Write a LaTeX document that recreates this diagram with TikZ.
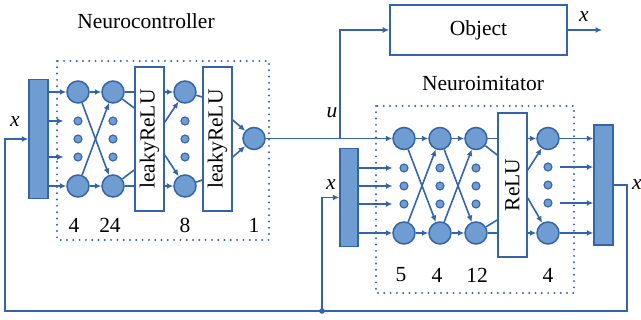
\documentclass[tikz,border=0pt]{standalone}
\usepackage{fontspec}
\usepackage{graphicx}
\setmainfont{Liberation Serif}
\usetikzlibrary{arrows.meta,calc}
\definecolor{nfill}{RGB}{111,157,210}
\definecolor{nline}{RGB}{52,100,170}
\begin{document}
\begin{tikzpicture}[x=1pt,y=-1pt,
  every node/.style={font=\fontsize{21.5}{24}\selectfont},
  conn/.style={draw=nline,line width=1.6pt},
  arr/.style={conn,-{Latex[length=6.5pt,width=6pt]}},
  neuron/.style={circle,draw=nline,fill=nfill,line width=1.5pt,minimum size=22pt,inner sep=0pt},
  ndot/.style={circle,draw=nline,fill=nfill,line width=1.1pt,minimum size=8pt,inner sep=0pt},
  bar/.style={rectangle,draw=nline,fill=nfill,line width=1.5pt,inner sep=0pt},
  actbox/.style={rectangle,draw=nline,fill=white,line width=1.6pt,inner sep=0pt,minimum width=29pt,minimum height=144pt},
  frame/.style={draw=nline,line width=2.2pt,dash pattern=on 0pt off 6.3pt,line cap=round},
  lbl/.style={inner sep=0pt}
]
\useasboundingbox (0,0) rectangle (641,320);

% frames
\draw[frame] (57,61) rectangle (269,240);
\draw[frame] (376,106) rectangle (574,293);

% titles
\node[lbl] (t1) at (146,21) {Neurocontroller};
\node[lbl] (t2) at (483,83) {Neuroimitator};

% ---------- Neurocontroller ----------
\node[bar,minimum width=19pt,minimum height=119pt] (barL) at (38.5,139) {};
\node[lbl] (xL) at (15,122) {\textit{x}};

\node[neuron] (c1t) at (78,92) {};
\node[neuron] (c1b) at (78,186) {};
\node[ndot] (d1a) at (78,121) {};
\node[ndot] (d1b) at (78,139) {};
\node[ndot] (d1c) at (78,157) {};

\node[neuron] (c2t) at (113,92) {};
\node[neuron] (c2b) at (113,186) {};
\node[ndot] (d2a) at (113,121) {};
\node[ndot] (d2b) at (113,139) {};
\node[ndot] (d2c) at (113,157) {};

\node[actbox] (box1) at (149.5,139) {\rotatebox{90}{leakyReLU}};

\node[neuron] (c3t) at (185,92) {};
\node[neuron] (c3b) at (185,186) {};
\node[ndot] (d3a) at (185,121) {};
\node[ndot] (d3b) at (185,139) {};
\node[ndot] (d3c) at (185,157) {};

\node[actbox] (box2) at (217.5,139) {\rotatebox{90}{leakyReLU}};

\node[neuron] (out) at (254,138.5) {};

\node[lbl] (n1) at (74,225) {4};
\node[lbl] (n2) at (110,225) {24};
\node[lbl] (n3) at (185,225) {8};
\node[lbl] (n4) at (254,225) {1};

\draw[arr] (barL.east |- c1t) -- (c1t);
\draw[arr] (barL.east |- c1b) -- (c1b);
\draw[arr,shorten >=10pt] (barL.east |- d1a) -- (d1a.west);
\draw[arr,shorten >=10pt] (barL.east |- d1c) -- (d1c.west);

\draw[arr] (c1t) -- (c2t);
\draw[arr] (c1b) -- (c2b);
\draw[arr] (c1t) -- (c2b);
\draw[arr] (c1b) -- (c2t);

\draw[conn] (c2t) -- (c2t -| box1.west);
\draw[conn] (c2t) -- ($(box1.west)+(0,-31)$);
\draw[conn] (c2b) -- (c2b -| box1.west);
\draw[conn] (c2b) -- ($(box1.west)+(0,31)$);

\draw[arr] (c3t -| box1.east) -- (c3t);
\draw[arr] (c3b -| box1.east) -- (c3b);
\draw[arr] ($(box1.east)+(0,-17)$) -- (c3t);
\draw[arr] ($(box1.east)+(0,16)$) -- (c3b);

\draw[conn] (c3t) -- ($(box2.west)+(0,-42)$);
\draw[conn] (c3b) -- ($(box2.west)+(0,41)$);

\draw[arr] ($(box2.east)+(0,-19)$) -- (out);
\draw[arr] ($(box2.east)+(0,18)$) -- (out);

% ---------- Object ----------
\node[draw=nline,line width=1.6pt,minimum width=177pt,minimum height=50pt,inner sep=0pt] (obj) at (478.5,30) {Object};
\coordinate (objout) at (602,30);
\node[lbl] (xo) at (584,17) {\textit{x}};
\draw[arr] (obj.east) -- (objout);

% ---------- Neuroimitator ----------
\node[bar,minimum width=18pt,minimum height=98pt] (bar2) at (349,197.5) {};
\node[lbl] (xI) at (331,185) {\textit{x}};
\node[lbl] (uI) at (332,113) {\textit{u}};

\node[neuron] (i1t) at (404,138.5) {};
\node[neuron] (i1b) at (404,233) {};
\node[ndot] (j1a) at (404,168) {};
\node[ndot] (j1b) at (404,186) {};
\node[ndot] (j1c) at (404,204) {};

\node[neuron] (i2t) at (440,138.5) {};
\node[neuron] (i2b) at (440,233) {};
\node[ndot] (j2a) at (440,168) {};
\node[ndot] (j2b) at (440,186) {};
\node[ndot] (j2c) at (440,204) {};

\node[neuron] (i3t) at (476,138.5) {};
\node[neuron] (i3b) at (476,233) {};
\node[ndot] (j3a) at (476,168) {};
\node[ndot] (j3b) at (476,186) {};
\node[ndot] (j3c) at (476,204) {};

\node[actbox] (relu) at (512.5,185) {\rotatebox{90}{ReLU}};

\node[neuron] (i4t) at (548,138.5) {};
\node[neuron] (i4b) at (548,233) {};
\node[ndot] (j4a) at (548,167) {};
\node[ndot] (j4b) at (548,185) {};
\node[ndot] (j4c) at (548,203) {};

\node[bar,minimum width=19pt,minimum height=120pt] (obar) at (603.5,185) {};
\node[lbl] (xO) at (637,185) {\textit{x}};

\node[lbl] (m1) at (401,275) {5};
\node[lbl] (m2) at (437,275) {4};
\node[lbl] (m3) at (477,275) {12};
\node[lbl] (m4) at (548,275) {4};

% controller output -> imitator, u -> object
\coordinate (uj) at (340,138.5);
\draw[arr] (out) -- (i1t);
\draw[arr] (uj) |- (obj.west);

\draw[arr] (bar2.east |- i1b) -- (i1b);
\draw[arr,shorten >=7pt] (bar2.east |- j1a) -- (j1a.west);
\draw[arr,shorten >=7pt] (bar2.east |- j1b) -- (j1b.west);
\draw[arr,shorten >=7pt] (bar2.east |- j1c) -- (j1c.west);

\draw[arr] (i1t) -- (i2t);
\draw[arr] (i1b) -- (i2b);
\draw[arr] (i1t) -- (i2b);
\draw[arr] (i1b) -- (i2t);

\draw[arr] (i2t) -- (i3t);
\draw[arr] (i2b) -- (i3b);
\draw[arr] (i2t) -- (i3b);
\draw[arr] (i2b) -- (i3t);

\draw[conn] (i3t) -- (i3t -| relu.west);
\draw[conn] (i3t) -- ($(relu.west)+(0,-30)$);
\draw[conn] (i3b) -- (i3b -| relu.west);
\draw[conn] (i3b) -- ($(relu.west)+(0,35)$);

\draw[arr] (i4t -| relu.east) -- (i4t);
\draw[arr] (i4b -| relu.east) -- (i4b);
\draw[arr] ($(relu.east)+(0,-15)$) -- (i4t);
\draw[arr] ($(relu.east)+(0,13)$) -- (i4b);

\draw[arr] (i4t) -- (i4t -| obar.west);
\draw[arr] (i4b) -- (i4b -| obar.west);
\draw[arr,shorten <=7pt] (j4a.east) -- (j4a -| obar.west);
\draw[arr,shorten <=7pt] (j4c.east) -- (j4c -| obar.west);

% feedback
\coordinate (fbR) at (627,311);
\coordinate (fbJ) at (322,311);
\coordinate (fbL) at (5,311);
\draw[arr] (obar.east) -| (fbR) -- (fbL) |- (barL.west);
\draw[arr] (fbJ) |- (bar2.west);
\fill[nline] (fbJ) circle (2.8pt);
\end{tikzpicture}
\end{document}
